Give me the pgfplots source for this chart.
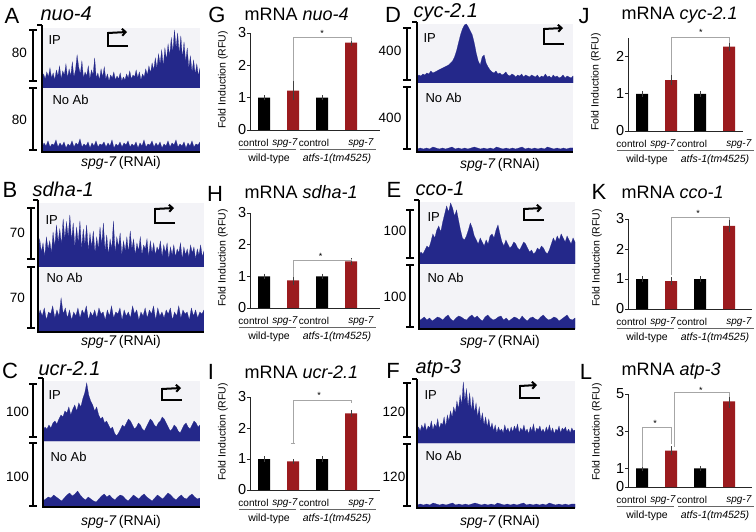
\documentclass[border=0pt]{standalone}
\usepackage{pgfplots}
\pgfplotsset{compat=1.18}
\usetikzlibrary{arrows.meta}
\usepackage{fontspec}
\setmainfont{Liberation Sans}
\definecolor{trackblue}{RGB}{36,40,138}
\definecolor{trackbg}{RGB}{243,243,247}
\definecolor{barred}{RGB}{155,27,30}
\newcommand{\fs}[1]{\fontsize{#1}{#1}\selectfont}
\pgfplotsset{
 trk/.style={scale only axis, hide axis, anchor=south west, xmin=0, ymin=0, enlargelimits=false},
 trkp/.style={fill=trackblue, draw=trackblue, line width=0.2pt},
 barax/.style={scale only axis, anchor=south west, xmin=-0.483, ymin=0,
   axis x line*=bottom, axis y line*=left, axis line style={-, black!85, line width=0.8pt},
   xtick=\empty, tick align=outside, major tick length=3pt, tick style={black!85, line width=0.8pt},
   yticklabel style={font=\fs{14.5}, inner sep=0.5pt}, /pgf/number format/assume math mode=true,
   clip=false, bar width=12pt},
 blk/.style={ybar, bar shift=0pt, fill=black, draw=none},
 red/.style={ybar, bar shift=0pt, fill=barred, draw=none},
 eb/.style={error bars/y dir=both, error bars/y explicit,
   error bars/error bar style={black!75, line width=0.5pt},
   error bars/error mark options={black!75, line width=0.5pt, mark size=2pt}},
}
\newcommand{\trkdata}[1]{\addplot[trkp] table[x expr=\coordindex, y index=0, header=false, row sep=\\] {#1} \closedcycle;}
\newcommand{\xlabs}[2]{%
\begin{scope}[shift={(#1,#2)}]
\node[font=\fs{10}, inner sep=0pt] at (3.5,-13) {control};
\node[font=\fs{10}, inner sep=0pt] at (35,-13) {\textit{spg-7}};
\node[font=\fs{10}, inner sep=0pt] at (64,-13) {control};
\node[font=\fs{10}, inner sep=0pt] at (111,-13) {\textit{spg-7}};
\draw[black!60, line width=0.6pt] (-11,-19) -- (46,-19) (50,-19) -- (126,-19);
\node[font=\fs{10.5}] at (19,-29) {wild-type};
\node[font=\fs{10.5}] at (87,-29) {\textit{atfs-1(tm4525)}};
\end{scope}}
\newcommand{\sbar}[3]{\draw[line width=1.8pt] (#1,-#2) -- (#1,-#3) ({#1-4},-#2) -- ({#1+4},-#2) ({#1-4},-#3) -- ({#1+4},-#3);}
\newcommand{\tss}[4]{\draw[line width=2pt] ({#1+20},-#3) -- (#1,-#3) -- (#1,-#2); \draw[line width=2pt, -{Straight Barb[length=3.5pt,width=7pt]}] ([yshift=-1pt]#1,-#2) -- ({#1+#4},-#2);}
\begin{document}
\begin{tikzpicture}[x=1pt,y=1pt]
\useasboundingbox (0,0) rectangle (756,-532);
\fill[white] (0,0) rectangle (756,-532);

% ================= Track A =================
\fill[trackbg] (42,-28) rectangle (200,-152);
\begin{axis}[trk, at={(42pt,-88pt)}, width=158pt, height=60pt, xmax=99, ymax=60]
\trkdata{7\\14\\9\\16\\11\\20\\10\\15\\8\\18\\12\\22\\9\\17\\13\\24\\10\\19\\12\\26\\11\\18\\33\\21\\14\\27\\10\\16\\12\\22\\9\\18\\13\\30\\10\\15\\8\\19\\11\\21\\9\\14\\7\\13\\10\\16\\8\\12\\9\\15\\7\\11\\8\\14\\10\\17\\9\\13\\11\\18\\10\\16\\8\\14\\11\\19\\13\\22\\15\\25\\18\\30\\20\\34\\24\\38\\22\\40\\28\\44\\32\\50\\36\\58\\40\\55\\34\\52\\30\\46\\26\\40\\20\\32\\16\\28\\14\\24\\12\\20\\}
\end{axis}
\begin{axis}[trk, at={(42pt,-152pt)}, width=158pt, height=62pt, xmax=79, ymax=62]
\trkdata{4\\9\\6\\11\\5\\8\\7\\12\\5\\9\\6\\10\\4\\8\\6\\11\\5\\9\\7\\13\\5\\8\\6\\10\\4\\9\\6\\11\\5\\8\\7\\10\\5\\9\\6\\12\\4\\8\\6\\10\\5\\9\\7\\11\\5\\8\\6\\10\\4\\9\\6\\12\\5\\8\\7\\11\\5\\9\\6\\10\\4\\8\\6\\11\\5\\9\\7\\12\\5\\8\\6\\10\\4\\9\\6\\11\\5\\8\\7\\10\\}
\end{axis}
\draw[line width=2pt] (42,-25) -- (42,-152) -- (200,-152);
\draw[line width=2pt] (37,-25) -- (42,-25);
\sbar{33}{30}{81}\sbar{33}{88}{150}
\node[font=\fs{13.5}] at (19.5,-53) {80};
\node[font=\fs{13.5}] at (19.5,-120) {80};
\node[font=\fs{13}, anchor=west] at (45,-40) {IP};
\node[font=\fs{13}, anchor=west] at (49,-100) {No Ab};
\tss{108}{32}{46}{19}
\node[font=\fs{14}] at (121,-163) {\textit{spg-7}\,(RNAi)};
\node[font=\fs{22}] at (12,-16) {A};
\node[font=\fs{20}, anchor=west] at (37,-14) {\textit{nuo-4}};

% ================= Track B =================
\fill[trackbg] (38,-203) rectangle (204,-332);
\begin{axis}[trk, at={(38pt,-267pt)}, width=166pt, height=64pt, xmax=99, ymax=64]
\trkdata{12\\28\\15\\24\\10\\30\\18\\26\\14\\35\\20\\42\\25\\38\\22\\48\\28\\45\\30\\52\\26\\44\\20\\40\\24\\46\\18\\38\\22\\42\\16\\34\\20\\36\\14\\30\\18\\40\\22\\44\\16\\32\\12\\28\\18\\46\\14\\30\\20\\34\\12\\26\\16\\30\\14\\36\\18\\28\\12\\24\\16\\30\\12\\22\\18\\28\\10\\26\\14\\24\\12\\20\\16\\26\\10\\22\\14\\24\\8\\20\\12\\22\\10\\18\\14\\24\\8\\20\\12\\18\\10\\22\\14\\20\\8\\18\\12\\22\\10\\16\\}
\end{axis}
\begin{axis}[trk, at={(38pt,-332pt)}, width=166pt, height=63pt, xmax=79, ymax=63]
\trkdata{14\\22\\16\\24\\12\\20\\18\\26\\14\\22\\16\\34\\18\\24\\14\\22\\12\\20\\16\\24\\14\\22\\18\\26\\12\\20\\16\\22\\14\\24\\18\\20\\12\\22\\16\\26\\14\\20\\18\\24\\12\\22\\16\\20\\14\\26\\18\\22\\12\\20\\16\\24\\14\\22\\18\\26\\12\\24\\16\\20\\14\\22\\18\\24\\12\\20\\16\\26\\14\\22\\18\\20\\12\\24\\16\\22\\14\\20\\18\\22\\}
\end{axis}
\draw[line width=2pt] (38,-200) -- (38,-332) -- (204,-332);
\draw[line width=2pt] (33,-200) -- (38,-200);
\sbar{31}{208}{259}\sbar{31}{267}{328}
\node[font=\fs{13.5}] at (17.5,-233) {70};
\node[font=\fs{13.5}] at (17.5,-298) {70};
\node[font=\fs{13}, anchor=west] at (42,-220) {IP};
\node[font=\fs{13}, anchor=west] at (43,-278) {No Ab};
\tss{155}{208}{223}{19}
\node[font=\fs{14}] at (121,-342) {\textit{spg-7}\,(RNAi)};
\node[font=\fs{22}] at (10,-190) {B};
\node[font=\fs{20}, anchor=west] at (29,-189) {\textit{sdha-1}};

% ================= Track C =================
\fill[trackbg] (43,-381) rectangle (200,-507);
\begin{axis}[trk, at={(43pt,-441pt)}, width=157pt, height=60pt, xmax=79, ymax=60]
\trkdata{10\\14\\12\\16\\13\\18\\20\\17\\22\\26\\24\\30\\28\\34\\26\\32\\36\\30\\38\\34\\42\\48\\58\\46\\40\\36\\30\\34\\26\\22\\24\\18\\20\\16\\12\\14\\8\\5\\8\\12\\16\\14\\18\\22\\20\\16\\12\\14\\18\\16\\12\\10\\14\\18\\22\\20\\16\\14\\18\\20\\24\\22\\18\\14\\10\\12\\16\\14\\10\\8\\12\\16\\18\\14\\12\\16\\20\\18\\14\\16\\}
\end{axis}
\begin{axis}[trk, at={(43pt,-507pt)}, width=157pt, height=64pt, xmax=59, ymax=64]
\trkdata{6\\8\\10\\9\\12\\10\\8\\6\\9\\12\\14\\11\\13\\16\\12\\9\\7\\10\\8\\6\\5\\8\\11\\13\\10\\12\\9\\7\\10\\12\\11\\8\\6\\9\\12\\10\\8\\11\\13\\10\\8\\6\\9\\12\\10\\8\\11\\14\\12\\9\\7\\10\\12\\9\\8\\11\\13\\10\\8\\9\\}
\end{axis}
\draw[line width=2pt] (43,-378) -- (43,-507) -- (200,-507);
\draw[line width=2pt] (38,-378) -- (43,-378);
\sbar{33}{384}{437}\sbar{33}{443}{506}
\node[font=\fs{13.5}] at (17.5,-412) {100};
\node[font=\fs{13.5}] at (17.5,-477) {100};
\node[font=\fs{13}, anchor=west] at (45,-395) {IP};
\node[font=\fs{13}, anchor=west] at (47,-457) {No Ab};
\tss{162}{388}{400}{19}
\node[font=\fs{14}] at (121,-522) {\textit{spg-7}\,(RNAi)};
\node[font=\fs{22}] at (10,-371) {C};
\node[font=\fs{20}, anchor=west] at (35,-369) {\textit{ucr-2.1}};

% ================= Track D =================
\fill[trackbg] (417,-24) rectangle (573,-152);
\begin{axis}[trk, at={(417pt,-83pt)}, width=156pt, height=59pt, xmax=79, ymax=59]
\trkdata{6\\8\\7\\9\\8\\10\\9\\12\\10\\11\\12\\13\\14\\15\\16\\17\\18\\20\\22\\26\\32\\40\\48\\54\\58\\59\\56\\52\\48\\40\\30\\22\\18\\26\\28\\20\\16\\13\\11\\10\\12\\9\\10\\8\\9\\11\\8\\7\\9\\8\\6\\8\\7\\9\\6\\8\\7\\6\\8\\7\\6\\8\\5\\7\\6\\9\\6\\7\\5\\8\\6\\7\\5\\6\\8\\5\\7\\6\\5\\7\\}
\end{axis}
\begin{axis}[trk, at={(417pt,-152pt)}, width=156pt, height=65pt, xmax=49, ymax=65]
\trkdata{3\\4\\3\\4\\3\\5\\4\\3\\4\\3\\4\\5\\3\\4\\3\\4\\3\\4\\5\\4\\3\\4\\3\\4\\3\\5\\4\\3\\4\\3\\4\\3\\4\\5\\3\\4\\3\\4\\3\\4\\3\\5\\4\\3\\4\\3\\4\\3\\4\\4\\}
\end{axis}
\draw[line width=2pt] (417,-22) -- (417,-152) -- (573,-152);
\draw[line width=2pt] (412,-22) -- (417,-22);
\sbar{407}{28}{80}\sbar{407}{87}{149}
\node[font=\fs{13.5}] at (390,-51) {400};
\node[font=\fs{13.5}] at (390,-118) {400};
\node[font=\fs{13}, anchor=west] at (420,-38) {IP};
\node[font=\fs{13}, anchor=west] at (422,-98) {No Ab};
\tss{544}{28}{44}{19}
\node[font=\fs{14}] at (500,-165) {\textit{spg-7}\,(RNAi)};
\node[font=\fs{22}] at (393,-15) {D};
\node[font=\fs{20}, anchor=west] at (410,-13) {\textit{cyc-2.1}};

% ================= Track E =================
\fill[trackbg] (419,-202) rectangle (575,-329);
\begin{axis}[trk, at={(419pt,-264pt)}, width=156pt, height=62pt, xmax=79, ymax=62]
\trkdata{8\\12\\10\\14\\18\\16\\22\\30\\26\\34\\38\\32\\42\\50\\58\\52\\61\\56\\48\\54\\44\\34\\26\\24\\28\\34\\41\\36\\28\\24\\20\\26\\22\\18\\24\\20\\28\\30\\26\\34\\39\\30\\22\\18\\24\\20\\16\\18\\22\\20\\16\\14\\18\\22\\20\\16\\12\\14\\10\\12\\16\\14\\18\\16\\12\\10\\14\\20\\26\\22\\28\\24\\30\\26\\22\\28\\24\\20\\26\\22\\}
\end{axis}
\begin{axis}[trk, at={(419pt,-329pt)}, width=156pt, height=63pt, xmax=59, ymax=63]
\trkdata{8\\10\\12\\9\\11\\8\\10\\12\\11\\9\\12\\14\\10\\8\\11\\13\\12\\10\\9\\12\\14\\11\\13\\10\\8\\12\\14\\11\\9\\10\\12\\13\\9\\11\\8\\10\\12\\11\\9\\13\\10\\8\\11\\12\\10\\9\\12\\14\\11\\9\\10\\12\\11\\8\\10\\12\\14\\10\\9\\11\\}
\end{axis}
\draw[line width=2pt] (419,-200) -- (419,-329) -- (575,-329);
\draw[line width=2pt] (414,-200) -- (419,-200);
\sbar{410}{210}{258}\sbar{410}{265}{327}
\node[font=\fs{13.5}] at (395,-231) {100};
\node[font=\fs{13.5}] at (395,-297) {100};
\node[font=\fs{13}, anchor=west] at (424,-217) {IP};
\node[font=\fs{13}, anchor=west] at (424,-278) {No Ab};
\tss{524}{208}{220}{18}
\node[font=\fs{14}] at (500,-342) {\textit{spg-7}\,(RNAi)};
\node[font=\fs{22}] at (394,-190) {E};
\node[font=\fs{20}, anchor=west] at (412,-189) {\textit{cco-1}};

% ================= Track F =================
\fill[trackbg] (417,-381) rectangle (575,-508);
\begin{axis}[trk, at={(417pt,-443pt)}, width=158pt, height=62pt, xmax=99, ymax=62]
\trkdata{10\\16\\12\\18\\14\\20\\12\\17\\15\\22\\13\\19\\16\\24\\14\\20\\18\\26\\16\\28\\22\\32\\26\\36\\30\\42\\34\\48\\38\\61\\42\\54\\36\\50\\32\\46\\30\\40\\26\\36\\22\\30\\18\\26\\16\\24\\14\\20\\12\\18\\10\\16\\12\\14\\10\\18\\12\\15\\10\\16\\11\\17\\13\\19\\10\\15\\12\\18\\11\\14\\9\\16\\12\\19\\10\\15\\13\\17\\11\\14\\10\\16\\12\\18\\11\\15\\9\\14\\12\\17\\10\\15\\13\\16\\11\\14\\10\\15\\12\\13\\}
\end{axis}
\begin{axis}[trk, at={(417pt,-508pt)}, width=158pt, height=63pt, xmax=49, ymax=63]
\trkdata{3\\4\\3\\4\\3\\5\\4\\3\\4\\3\\4\\5\\3\\4\\3\\4\\3\\4\\5\\4\\3\\4\\3\\4\\3\\5\\4\\3\\4\\3\\4\\3\\4\\5\\3\\4\\3\\4\\3\\4\\3\\5\\4\\3\\4\\3\\4\\3\\4\\4\\}
\end{axis}
\draw[line width=2pt] (417,-379) -- (417,-508) -- (575,-508);
\draw[line width=2pt] (412,-379) -- (417,-379);
\sbar{407}{383}{437}\sbar{407}{444}{506}
\node[font=\fs{13.5}] at (394,-412) {120};
\node[font=\fs{13.5}] at (394,-477) {120};
\node[font=\fs{13}, anchor=west] at (421,-395) {IP};
\node[font=\fs{13}, anchor=west] at (422,-456) {No Ab};
\tss{520}{385}{398}{17}
\node[font=\fs{14}] at (500,-522) {\textit{spg-7}\,(RNAi)};
\node[font=\fs{22}] at (393,-371) {F};
\node[font=\fs{20}, anchor=west] at (412,-369) {\textit{atp-3}};

% ================= Bar G =================
\begin{axis}[barax, at={(250pt,-130pt)}, width=130pt, height=97pt, xmax=4.0, ymax=3, ytick={0,1,2,3}]
\addplot[blk, eb] coordinates {(0,1) +- (0,0.02) (2,1) +- (0,0.02)};
\addplot[red, eb] coordinates {(1,1.22) +- (0,0.24) (3,2.7) +- (0,0.03)};
\draw[gray!70, line width=0.7pt] (axis cs:1,1.5) -- (axis cs:1,2.86) -- (axis cs:3,2.86) -- (axis cs:3,2.75);
\node[font=\fs{9}] at (axis cs:2,2.98) {*};
\end{axis}
\xlabs{250}{-130}
\node[rotate=90, font=\fs{10.5}] at (223,-80) {Fold Induction (RFU)};
\node[font=\fs{22}] at (217,-15) {G};
\node[font=\fs{18}, anchor=west] at (241,-14) {mRNA \textit{nuo-4}};

% ================= Bar H =================
\begin{axis}[barax, at={(250pt,-308pt)}, width=130pt, height=95pt, xmax=4.0, ymax=3, ytick={0,1,2,3}]
\addplot[blk, eb] coordinates {(0,1) +- (0,0.02) (2,1) +- (0,0.02)};
\addplot[red, eb] coordinates {(1,0.87) +- (0,0.07) (3,1.47) +- (0,0.04)};
\draw[gray!70, line width=0.7pt] (axis cs:1,0.97) -- (axis cs:1,1.52) -- (axis cs:3,1.52) -- (axis cs:3,1.55);
\node[font=\fs{9}] at (axis cs:1.95,1.64) {*};
\end{axis}
\xlabs{250}{-308}
\node[rotate=90, font=\fs{10.5}] at (223,-258) {Fold Induction (RFU)};
\node[font=\fs{22}] at (215,-194) {H};
\node[font=\fs{18}, anchor=west] at (241,-192) {mRNA \textit{sdha-1}};

% ================= Bar I =================
\begin{axis}[barax, at={(250pt,-490pt)}, width=130pt, height=93pt, xmax=4.0, ymax=3, ytick={0,1,2,3}]
\addplot[blk, eb] coordinates {(0,1) +- (0,0.02) (2,1) +- (0,0.02)};
\addplot[red, eb] coordinates {(1,0.92) +- (0,0.01) (3,2.47) +- (0,0.04)};
\draw[gray!70, line width=0.7pt] (axis cs:1,1.52) -- (axis cs:1,2.9) -- (axis cs:3,2.9) -- (axis cs:3,2.8);
\draw[gray!70, line width=0.7pt] (axis cs:0.93,1.52) -- (axis cs:1.07,1.52);
\node[font=\fs{9}] at (axis cs:1.9,3.04) {*};
\end{axis}
\xlabs{250}{-490}
\node[rotate=90, font=\fs{10.5}] at (223,-432) {Fold Induction (RFU)};
\node[font=\fs{22}] at (211,-372) {I};
\node[font=\fs{18}, anchor=west] at (241,-372) {mRNA \textit{ucr-2.1}};

% ================= Bar J =================
\begin{axis}[barax, at={(628pt,-131pt)}, width=115pt, height=93pt, xmax=3.48, ymax=2.5, ytick={0,1,2}]
\addplot[blk, eb] coordinates {(0,1) +- (0,0.02) (2,1) +- (0,0.02)};
\addplot[red, eb] coordinates {(1,1.37) +- (0,0.08) (3,2.27) +- (0,0.07)};
\draw[gray!70, line width=0.7pt] (axis cs:1,1.51) -- (axis cs:1,2.52) -- (axis cs:3,2.52) -- (axis cs:3,2.36);
\node[font=\fs{9}] at (axis cs:2.03,2.64) {*};
\end{axis}
\xlabs{628}{-131}
\node[rotate=90, font=\fs{10.5}] at (596,-82) {Fold Induction (RFU)};
\node[font=\fs{22}] at (584,-16) {J};
\node[font=\fs{18}, anchor=west] at (618,-15) {mRNA \textit{cyc-2.1}};

% ================= Bar K =================
\begin{axis}[barax, at={(628pt,-309pt)}, width=124pt, height=90pt, xmax=3.79, ymax=3, ytick={0,1,2,3}]
\addplot[blk, eb] coordinates {(0,1) +- (0,0.02) (2,1) +- (0,0.02)};
\addplot[red, eb] coordinates {(1,0.93) +- (0,0.07) (3,2.77) +- (0,0.13)};
\draw[gray!70, line width=0.7pt] (axis cs:1,1.12) -- (axis cs:1,3.07) -- (axis cs:3,3.07) -- (axis cs:3,2.95);
\node[font=\fs{9}] at (axis cs:1.93,3.2) {*};
\end{axis}
\xlabs{628}{-309}
\node[rotate=90, font=\fs{10.5}] at (597,-258) {Fold Induction (RFU)};
\node[font=\fs{22}] at (599,-192) {K};
\node[font=\fs{18}, anchor=west] at (618,-192) {mRNA \textit{cco-1}};

% ================= Bar L =================
\begin{axis}[barax, at={(628pt,-487pt)}, width=124pt, height=93pt, xmax=3.79, ymax=5, ytick={0,1,3,5}]
\addplot[blk, eb] coordinates {(0,1) +- (0,0.05) (2,1) +- (0,0.03)};
\addplot[red, eb] coordinates {(1,1.95) +- (0,0.13) (3,4.6) +- (0,0.22)};
\draw[gray!70, line width=0.7pt] (axis cs:0,1.1) -- (axis cs:0,3.21) -- (axis cs:1,3.21) -- (axis cs:1,2.31);
\draw[gray!70, line width=0.7pt] (axis cs:1.12,2.17) -- (axis cs:1.12,5.07) -- (axis cs:3,5.07) -- (axis cs:3,4.85);
\node[font=\fs{9}] at (axis cs:0.45,3.4) {*};
\node[font=\fs{9}] at (axis cs:2.03,5.22) {*};
\end{axis}
\xlabs{628}{-487}
\node[rotate=90, font=\fs{10.5}] at (597,-432) {Fold Induction (RFU)};
\node[font=\fs{22}] at (586,-372) {L};
\node[font=\fs{18}, anchor=west] at (618,-371) {mRNA \textit{atp-3}};
\end{tikzpicture}
\end{document}
